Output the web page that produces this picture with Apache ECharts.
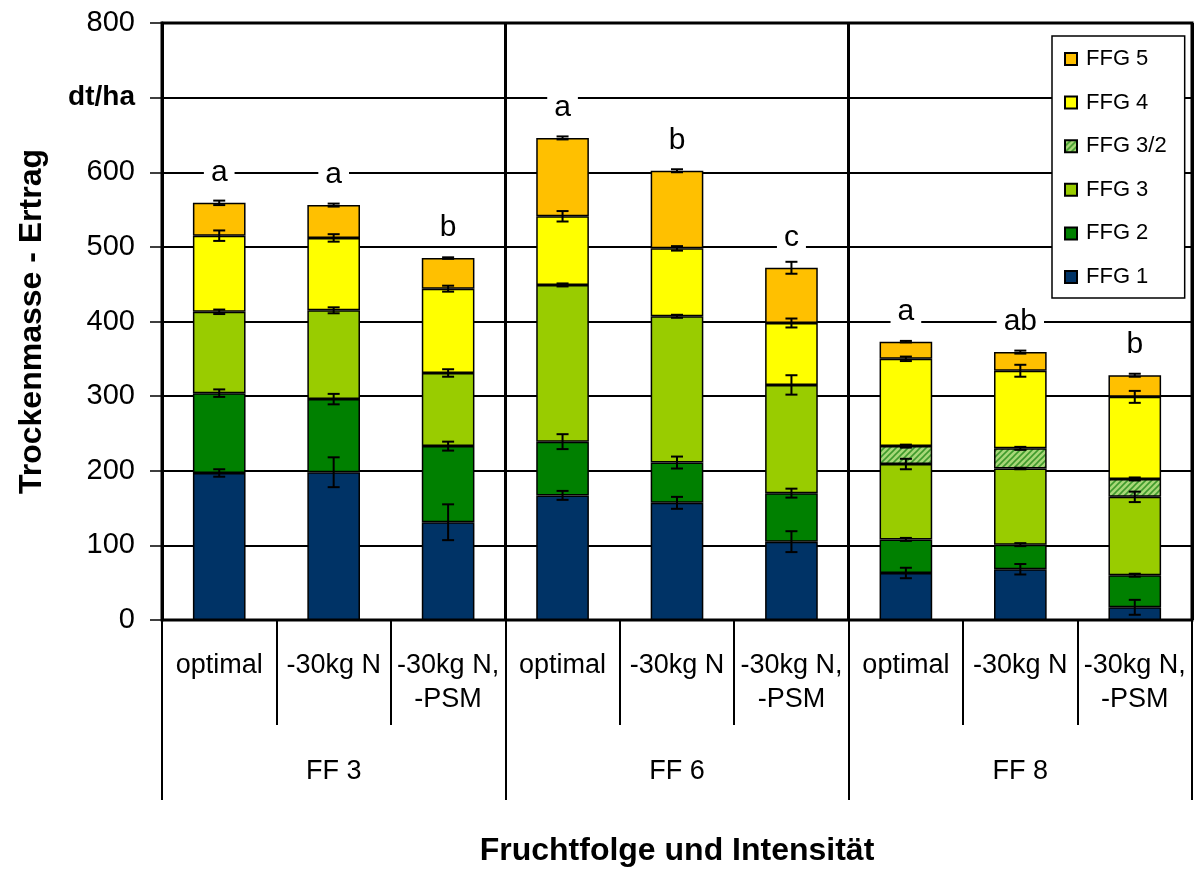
<!DOCTYPE html>
<html>
<head>
<meta charset="utf-8">
<script src="https://cdn.jsdelivr.net/npm/echarts@6/dist/echarts.min.js"></script>
<style>
  html, body { margin: 0; padding: 0; background: #fff; }
  #chart { width: 1200px; height: 870px; }
</style>
</head>
<body>
<div id="chart"></div>
<script>
// categories
const categories = ['optimal', '-30kg N', '-30kg N,\n-PSM', 'optimal', '-30kg N', '-30kg N,\n-PSM', 'optimal', '-30kg N', '-30kg N,\n-PSM'];
const groups = ['FF 3', 'FF 6', 'FF 8'];

// segment heights (dt/ha)
const ffg1 = [197, 198, 131, 167, 157, 105, 63, 68, 17];
const ffg2 = [107, 98, 102, 72, 54, 65, 45, 33, 43];
const ffg3 = [109, 119, 98, 210, 196, 145, 101, 102, 105];
const ffg32 = [0, 0, 0, 0, 0, 0, 24, 27, 24];
const ffg4 = [102, 97, 113, 92, 91, 83, 117, 104, 110];
const ffg5 = [44, 44, 41, 105, 104, 74, 23, 25, 29];

// error bars (+/-)
const err1 = [5, 20, 24, 6, 8, 14, 7, 7, 10];
const err2 = [5, 7, 6, 10, 8, 6, 2, 2, 2];
const err3 = [3, 4, 5, 2, 2, 13, 7, 1, 7];
const err32 = [0, 0, 0, 0, 0, 0, 2, 2, 2];
const err4 = [7, 5, 4, 7, 3, 6, 3, 8, 8];
const err5 = [3, 2, 1, 2, 2, 8, 1, 2, 2];

const letters = ['a', 'a', 'b', 'a', 'b', 'c', 'a', 'ab', 'b'];

const FONT = "'Liberation Sans', Arial, sans-serif";

// hatched fill for FFG 3/2
function hatch() {
    const c = document.createElement('canvas');
    c.width = 6; c.height = 6;
    const ctx = c.getContext('2d');
    ctx.fillStyle = '#a8d878';
    ctx.fillRect(0, 0, 6, 6);
    ctx.strokeStyle = '#3f9a2c';
    ctx.lineWidth = 1.6;
    ctx.beginPath();
    ctx.moveTo(-1, 7); ctx.lineTo(7, -1);
    ctx.moveTo(-4, 4); ctx.lineTo(4, -4);
    ctx.moveTo(2, 10); ctx.lineTo(10, 2);
    ctx.stroke();
    return c;
}

const segs = [
    { name: 'FFG 1', vals: ffg1, errs: err1, color: '#003366' },
    { name: 'FFG 2', vals: ffg2, errs: err2, color: '#008000' },
    { name: 'FFG 3', vals: ffg3, errs: err3, color: '#99cc00' },
    { name: 'FFG 3/2', vals: ffg32, errs: err32, color: { image: hatch(), repeat: 'repeat' } },
    { name: 'FFG 4', vals: ffg4, errs: err4, color: '#ffff00' },
    { name: 'FFG 5', vals: ffg5, errs: err5, color: '#ffc000' }
];

// error bar points at the top of every segment
let errData = [];
let cum = categories.map(() => 0);
segs.forEach(s => {
    s.vals.forEach((v, i) => {
        cum[i] += v;
        if (v > 0) errData.push([i, cum[i], s.errs[i]]);
    });
});

let series = segs.map((s, k) => {
    let ser = {
        name: s.name,
        type: 'bar',
        stack: 'total',
        barWidth: '46%',
        data: s.vals.map(v => v === 0 ? '-' : v),
        itemStyle: { color: s.color, borderColor: '#000', borderWidth: 1.5 },
        emphasis: { disabled: true }
    };
    if (k === segs.length - 1) {
        ser.label = {
            show: true,
            position: 'top',
            distance: 15,
            formatter: p => letters[p.dataIndex],
            fontFamily: FONT,
            fontSize: 30,
            color: '#000',
            backgroundColor: '#fff',
            padding: [0, 7]
        };
    }
    return ser;
});

series.push({
    type: 'custom',
    name: 'err',
    z: 5,
    data: errData,
    renderItem: (params, api) => {
        const x = api.value(0), top = api.value(1), e = api.value(2);
        const a = api.coord([x, top + e]);
        const b = api.coord([x, top - e]);
        const st = { stroke: '#000', lineWidth: 2 };
        return {
            type: 'group',
            children: [
                { type: 'line', shape: { x1: a[0], y1: a[1], x2: b[0], y2: b[1] }, style: st },
                { type: 'line', shape: { x1: a[0] - 6, y1: a[1], x2: a[0] + 6, y2: a[1] }, style: st },
                { type: 'line', shape: { x1: b[0] - 6, y1: b[1], x2: b[0] + 6, y2: b[1] }, style: st }
            ]
        };
    }
});

const chart = echarts.init(document.getElementById('chart'));
chart.setOption({
    animation: false,
    textStyle: { fontFamily: FONT },
    grid: {
        left: 162, right: 8, top: 23, bottom: 250,
        outerBoundsMode: 'none',
        show: true, borderColor: '#000', borderWidth: 3
    },
    legend: {
        data: ['FFG 5', 'FFG 4', 'FFG 3/2', 'FFG 3', 'FFG 2', 'FFG 1'],
        orient: 'vertical',
        left: 1052,
        top: 36,
        icon: 'rect',
        itemWidth: 12,
        itemHeight: 12,
        itemGap: 21.6,
        padding: [12, 18, 10, 12],
        backgroundColor: '#fff',
        borderColor: '#000',
        borderWidth: 1.5,
        selectedMode: false,
        textStyle: { fontFamily: FONT, fontSize: 22, color: '#000', padding: [0, 0, 0, 4] }
    },
    xAxis: [
        {
            type: 'category',
            data: categories,
            axisLine: { lineStyle: { color: '#000', width: 2 } },
            axisTick: { show: true, interval: 0, length: 105, lineStyle: { color: '#000', width: 2 } },
            axisLabel: { interval: 0, margin: 29, fontSize: 27, lineHeight: 34, color: '#000', fontFamily: FONT }
        },
        {
            type: 'category',
            data: groups,
            position: 'bottom',
            axisLine: { show: false },
            axisTick: { show: true, length: 180, lineStyle: { color: '#000', width: 2 } },
            axisLabel: { margin: 138, fontSize: 27, color: '#000', fontFamily: FONT },
            splitLine: { show: true, lineStyle: { color: '#000', width: 3 } },
            name: 'Fruchtfolge und Intensität',
            nameLocation: 'middle',
            nameGap: 215,
            nameTextStyle: { fontSize: 32, fontWeight: 'bold', color: '#000', fontFamily: FONT }
        }
    ],
    yAxis: {
        type: 'value',
        min: 0,
        max: 800,
        interval: 100,
        axisLine: { show: true, lineStyle: { color: '#000', width: 3 } },
        axisTick: { show: true, length: 12, lineStyle: { color: '#000', width: 1.5 } },
        axisLabel: {
            margin: 27,
            fontSize: 29,
            color: '#000',
            fontFamily: FONT,
            formatter: v => v === 700 ? '{b|dt/ha}' : String(v),
            rich: { b: { fontSize: 28, fontWeight: 'bold', color: '#000', fontFamily: FONT } }
        },
        splitLine: { show: true, lineStyle: { color: '#000', width: 2 } },
        name: 'Trockenmasse - Ertrag',
        nameLocation: 'middle',
        nameGap: 114,
        nameTextStyle: { fontSize: 32, fontWeight: 'bold', color: '#000', fontFamily: FONT }
    },
    series: series
});
</script>
</body>
</html>
